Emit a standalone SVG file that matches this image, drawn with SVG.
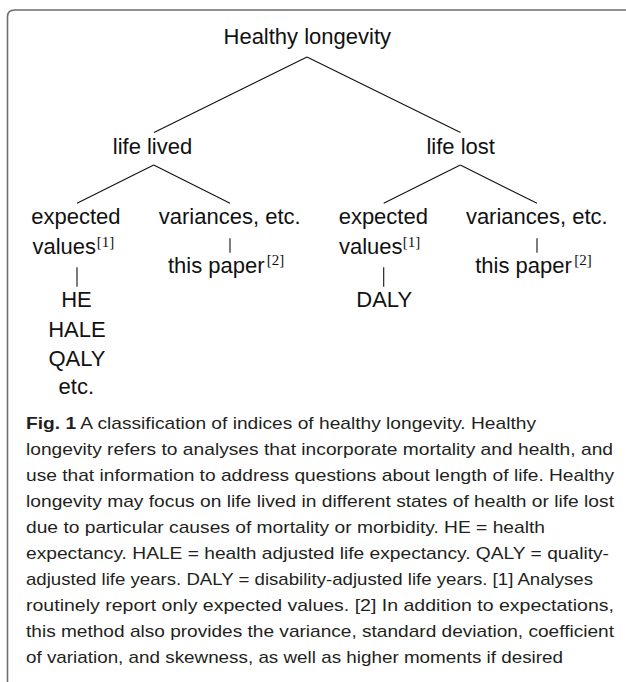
<svg xmlns="http://www.w3.org/2000/svg" width="626" height="682" viewBox="0 0 626 682">
<style>
.t{font-family:"Liberation Sans",Arial,sans-serif;font-size:22px;fill:#111;text-anchor:middle}
.s{font-family:"Liberation Serif","Times New Roman",serif;font-size:15px;fill:#111}
.c{font-family:"Liberation Sans",Arial,sans-serif;font-size:17px;fill:#231f20}
.b{font-weight:bold}
.ln{stroke:#111;stroke-width:1.1;fill:none}
.frame{stroke:#6e6e6e;stroke-width:1.6;fill:none}
</style>
<rect width="626" height="682" fill="#fff"/>
<path class="frame" d="M7.5 682 V17 Q7.5 10 14.5 10 H626"/>
<g id="connectors" class="ln">
<line x1="307" y1="57" x2="154" y2="132.5"/>
<line x1="307" y1="57" x2="460.5" y2="132.5"/>
<line x1="153.7" y1="165" x2="77" y2="203.3"/>
<line x1="153.7" y1="165" x2="230" y2="203.3"/>
<line x1="460.3" y1="165" x2="383.7" y2="203.3"/>
<line x1="460.3" y1="165" x2="537" y2="203.3"/>
<line x1="77" y1="267.3" x2="77" y2="286.7"/>
<line x1="383.7" y1="267.3" x2="383.7" y2="286.7"/>
<line x1="230" y1="238.3" x2="230" y2="252.7"/>
<line x1="537" y1="238.3" x2="537" y2="252.7"/>
</g>
<g id="root"><text class="t" x="307.3" y="44.3">Healthy longevity</text></g>
<g id="life-lived"><text class="t" x="152.5" y="154">life lived</text></g>
<g id="life-lost"><text class="t" x="460.7" y="154">life lost</text></g>
<g id="lived-expected">
<text class="t" x="75.9" y="224">expected</text>
<text class="t" x="64.2" y="254">values</text>
<text class="s" x="96.7" y="247">[1]</text>
</g>
<g id="lived-variances">
<text class="t" x="229.7" y="224">variances, etc.</text>
<text class="t" x="216.3" y="273.3">this paper</text>
<text class="s" x="266.7" y="265">[2]</text>
</g>
<g id="lived-indices">
<text class="t" x="76.5" y="307.3">HE</text>
<text class="t" x="76.9" y="336.7">HALE</text>
<text class="t" x="77" y="365.7">QALY</text>
<text class="t" x="76.3" y="394">etc.</text>
</g>
<g id="lost-expected">
<text class="t" x="383.3" y="224">expected</text>
<text class="t" x="370.7" y="254">values</text>
<text class="s" x="402.7" y="247">[1]</text>
</g>
<g id="lost-variances">
<text class="t" x="536.8" y="224">variances, etc.</text>
<text class="t" x="523.5" y="273.3">this paper</text>
<text class="s" x="574.3" y="265">[2]</text>
</g>
<g id="lost-indices"><text class="t" x="384.2" y="306.7">DALY</text></g>
<g id="caption">
<text class="c" x="26" y="429" textLength="510" lengthAdjust="spacingAndGlyphs"><tspan class="b">Fig. 1</tspan> A classification of indices of healthy longevity. Healthy</text>
<text class="c" x="26" y="455" textLength="587" lengthAdjust="spacingAndGlyphs">longevity refers to analyses that incorporate mortality and health, and</text>
<text class="c" x="26" y="481" textLength="588" lengthAdjust="spacingAndGlyphs">use that information to address questions about length of life. Healthy</text>
<text class="c" x="26" y="507" textLength="588" lengthAdjust="spacingAndGlyphs">longevity may focus on life lived in different states of health or life lost</text>
<text class="c" x="26" y="533" textLength="519" lengthAdjust="spacingAndGlyphs">due to particular causes of mortality or morbidity. HE = health</text>
<text class="c" x="26" y="559" textLength="583" lengthAdjust="spacingAndGlyphs">expectancy. HALE = health adjusted life expectancy. QALY = quality-</text>
<text class="c" x="26" y="585" textLength="567" lengthAdjust="spacingAndGlyphs">adjusted life years. DALY = disability-adjusted life years. [1] Analyses</text>
<text class="c" x="26" y="611" textLength="588" lengthAdjust="spacingAndGlyphs">routinely report only expected values. [2] In addition to expectations,</text>
<text class="c" x="26" y="637" textLength="588" lengthAdjust="spacingAndGlyphs">this method also provides the variance, standard deviation, coefficient</text>
<text class="c" x="26" y="663" textLength="537" lengthAdjust="spacingAndGlyphs">of variation, and skewness, as well as higher moments if desired</text>
</g>
</svg>
